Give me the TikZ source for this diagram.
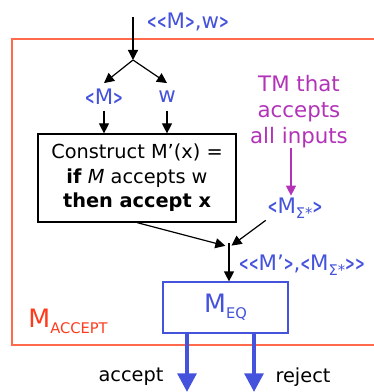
\documentclass[tikz,border=0pt]{standalone}
\usepackage{fontspec}
\usepackage{graphicx}
\setmainfont{DejaVu Sans}
\usetikzlibrary{arrows.meta, positioning, calc}
\definecolor{cblue}{HTML}{4452DC}
\definecolor{cmagenta}{HTML}{B233B8}
\definecolor{cred}{HTML}{FF3A1C}
\definecolor{cframe}{HTML}{FF6A4C}
\newcommand{\lowsub}[1]{\raisebox{-0.45ex}{\fontsize{11}{11}\selectfont #1}}
\newcommand{\opn}{\scalebox{0.55}[0.9]{\textbf{<}}}
\newcommand{\cls}{\scalebox{0.55}[0.9]{\textbf{>}}}
\tikzset{
  every picture/.style={font=\fontsize{14.5}{18.5}\selectfont, line width=0.9pt},
  arrow/.style={-{Triangle[length=7.5pt, width=7.5pt]}, draw=black},
  fat/.style={-{Triangle[length=14pt, width=14pt]}, draw=cblue, line width=3pt},
  blue/.style={text=cblue, inner sep=1pt, font=\fontsize{16}{18}\selectfont},
  machine/.style={draw=#1, fill=white, align=center, inner sep=2pt},
}

\begin{document}
\begin{tikzpicture}[x=0.75pt, y=-0.75pt]
  \useasboundingbox (0,0) rectangle (374,392);
  % outer machine frame, cut off on the right
  \draw[cframe, line width=1.1pt] (380,39) -- (12,39) -- (12,345) -- (380,345);
  \node[text=cred, font=\fontsize{19}{19}\selectfont] (acc) at (68,321) {M\lowsub{ACCEPT}};
  % input split
  \coordinate (in) at (133,17);
  \coordinate (split) at (133,60);
  \node[blue, anchor=west] (inlab) at (145,22) {\opn\opn M\cls,w\cls};
  \node[blue, minimum height=20pt] (codeM) at (104,97) {\opn M\cls};
  \node[blue, minimum height=20pt] (wrd) at (167,97) {w};
  \draw[arrow] (in) -- (split);
  \draw[arrow] (split) -- (codeM.north);
  \draw[arrow] (split) -- (wrd.north);
  % the construction
  \node[machine=black, minimum width=148.5pt, minimum height=66pt] (build) at (137,178)
    {Construct M’(x) =\\ \textbf{if} \textit{M} accepts w\\ \textbf{then accept x}};
  \draw[arrow] (codeM.south) -- (codeM.south |- build.north);
  \draw[arrow] (wrd.south) -- (wrd.south |- build.north);
  % machine that accepts everything
  \node[text=cmagenta, align=center, font=\fontsize{16}{19.5}\selectfont] (note) at (299,112)
    {TM that\\ accepts\\ all inputs};
  \node[blue] (msig) at (295,208) {\opn M\lowsub{Σ*}\cls};
  \draw[arrow, draw=cmagenta] (291,148) -- (msig.north -| 291,0);
  % merging into M_EQ
  \coordinate (join) at (229,246);
  \node[machine=cblue, minimum width=93.75pt, minimum height=38.25pt, text=cblue,
        font=\fontsize{19}{19}\selectfont] (meq) at (225.5,307.5) {M\lowsub{EQ}};
  \draw[arrow, shorten >=0.5pt] (build.south) -- ($(join)+(-3,0)$);
  \draw[arrow, shorten >=0.5pt] (msig.south west) -- ($(join)+(2,0)$);
  \draw[arrow] ($(join)+(0,-3)$) -- (join |- meq.north);
  \node[blue, anchor=west] (pair) at (237,265) {\opn\opn M’\cls,\opn M\lowsub{Σ*}\cls\cls};
  % outcomes
  \coordinate (yes) at (187,392);
  \coordinate (no) at (254,392);
  \draw[fat] (meq.south -| yes) -- (yes);
  \draw[fat] (meq.south -| no) -- (no);
  \node (acclab) at (131,377) {accept};
  \node (rejlab) at (303,377) {reject};
\end{tikzpicture}
\end{document}
